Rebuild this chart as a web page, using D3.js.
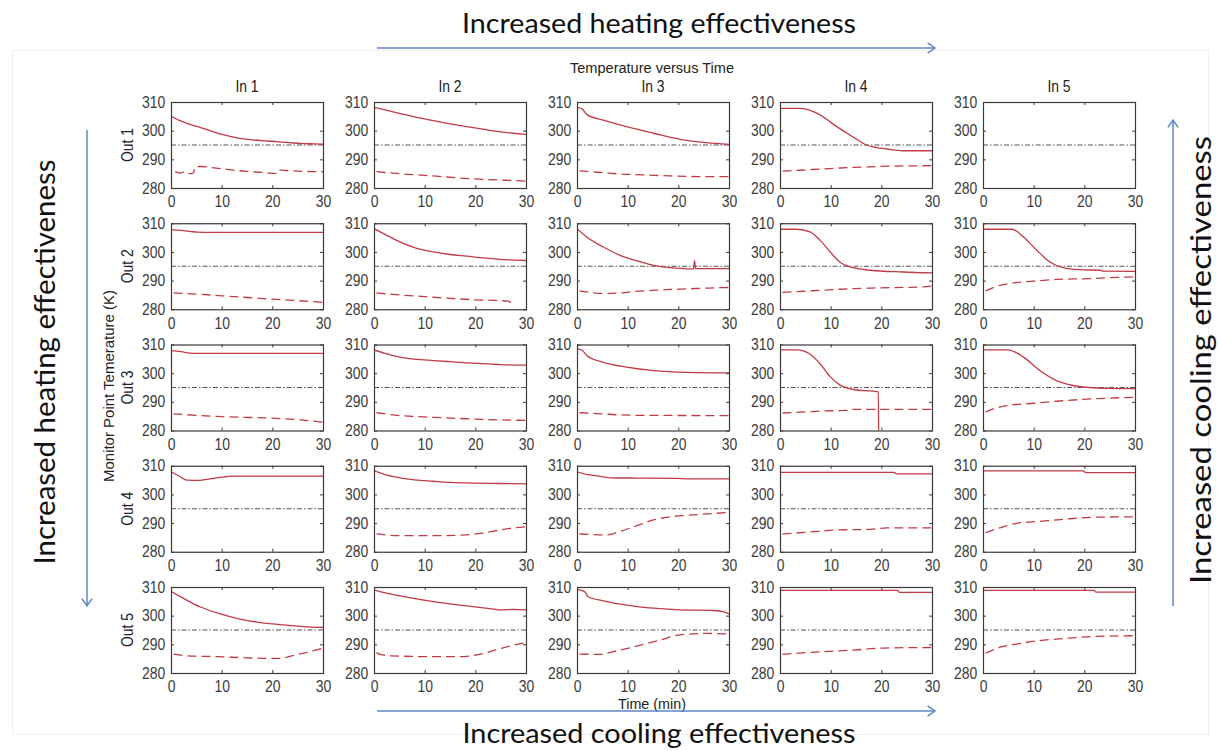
<!DOCTYPE html>
<html>
<head>
<meta charset="utf-8">
<script src="https://cdn.jsdelivr.net/npm/d3@7"></script>
<style>
  body { margin: 0; background: #fff; }
  svg text { font-family: "Liberation Sans", Arial, sans-serif; }
  .nar { transform-box: fill-box; transform-origin: center; transform: scaleX(0.87); }
  .note { font-family: Lato, "Open Sans", sans-serif !important; fill: #111; }
</style>
</head>
<body>
<svg id="chart" width="1218" height="751"></svg>
<script>
// Column / row headings and axis ticks
const inputs = ["In 1", "In 2", "In 3", "In 4", "In 5"];
const outputs = ["Out 1", "Out 2", "Out 3", "Out 4", "Out 5"];
const xTicks = [0, 10, 20, 30];
const yTicks = [280, 290, 300, 310];
const timeRange = [0, 30];
const tempRange = [280, 310];
const setpoint = 295;

// Monitor point temperatures, [minute, kelvin]; one entry per input column, null = no trace
const solidOut1 = [
  [[0,305.0],[2,303.3],[4,302.0],[6,301.0],[8,299.8],[10,298.7],[12,297.9],[14,297.2],[16,296.8],[18,296.5],[20,296.3],[22,296.0],[24,295.7],[26,295.5],[28,295.4],[30,295.3]],
  [[0,308.1],[2,307.3],[5,306.0],[8,304.8],[11.7,303.5],[15,302.4],[18.3,301.4],[21.5,300.5],[24.9,299.6],[27.5,299.1],[30,298.7]],
  [[0,308.1],[1,307.6],[2,305.5],[5.2,303.7],[9.8,301.4],[15.1,299.1],[20.3,297.0],[25.6,295.8],[30,295.2]],
  [[0,307.8],[4,307.8],[5.5,307.3],[7.9,305.5],[11.2,301.4],[14.5,297.7],[17.1,295.0],[19,294.1],[21.1,293.6],[24.3,293.0],[30,293.0]],
  null
];
const dashedOut1 = [
  [[0.8,285.7],[1.8,285.2],[2.6,285.6],[3.6,285.0],[4.4,285.2],[4.8,287.4],[6,287.5],[8,287.1],[10,286.7],[13,286.1],[16,285.7],[18.2,285.4],[20.8,285.1],[21.2,286.3],[23,286.1],[26,285.8],[30,285.7]],
  [[0.5,285.7],[5,285.0],[11.7,284.2],[16,283.6],[21.5,283.0],[26,282.7],[30,282.4]],
  [[0.5,286.0],[4,285.5],[8.5,284.9],[13,284.6],[18.4,284.2],[24,284.0],[30,284.0]],
  [[0.5,285.9],[4,286.2],[7.9,286.6],[11,286.9],[14.5,287.2],[18,287.4],[21.1,287.6],[25,287.7],[30,287.8]],
  null
];

const solidOut2 = [
  [[0,307.8],[2,307.5],[4,307.1],[5.1,306.9],[8,306.8],[30,306.8]],
  [[0,308.1],[2,306.3],[5.1,303.5],[8,301.5],[11.7,300.0],[15,299.1],[18.3,298.5],[21.5,297.9],[24.9,297.4],[30,297.0]],
  [[0,308.1],[1.9,305.2],[5.2,301.7],[8.5,298.8],[11.8,296.9],[15.1,295.3],[18.4,294.5],[21.7,294.1],[23.0,294.1],[23.2,297.0],[23.4,294.2],[30,294.2]],
  [[0,307.9],[3.3,307.9],[5.9,307.0],[7.9,304.1],[9.9,300.0],[11.8,296.5],[14.5,294.5],[17.8,293.6],[24.3,293.0],[30,292.7]],
  [[0,307.9],[5.7,307.9],[8.0,305.2],[10.6,300.6],[13.2,296.5],[15.8,294.5],[19.1,293.8],[23.1,293.6],[23.6,293.3],[30,293.2]]
];
const dashedOut2 = [
  [[0.5,285.7],[5,285.3],[10,284.7],[15,284.1],[20,283.5],[25,283.0],[30,282.4]],
  [[0.5,285.7],[5,285.0],[10,284.4],[15,283.8],[20,283.3],[25,283.0],[26.5,282.8],[27.5,281.2]],
  [[0.5,286.4],[3,285.8],[5.2,285.5],[8.5,285.7],[11.5,286.2],[15.1,286.6],[18.5,286.9],[21.7,287.1],[26,287.4],[30,287.6]],
  [[0.5,285.9],[4,286.2],[7.9,286.6],[11,286.9],[14.5,287.2],[18,287.4],[24.3,287.6],[28,287.8],[30,288.1]],
  [[0.5,286.4],[2.7,288.0],[5.3,289.0],[9.9,289.8],[14.5,290.4],[21.1,290.7],[25,291.0],[30,291.3]]
];

const solidOut3 = [
  [[0,307.9],[2,307.5],[3.7,307.0],[5,306.9],[30,306.9]],
  [[0,308.1],[2,307.0],[5.1,305.6],[8,304.9],[11.7,304.4],[15,304.0],[18.3,303.6],[21.5,303.3],[24.9,303.0],[30,302.8]],
  [[0,308.5],[1,308.0],[1.9,306.2],[5.2,303.8],[9.8,302.1],[15.1,300.9],[21.7,300.3],[30,300.1]],
  [[0,308.1],[3.3,308.1],[5.9,306.7],[7.9,303.3],[9.9,298.8],[11.8,295.9],[14.5,294.3],[18.4,293.7],[19.4,293.5],[19.5,275],[30,275]],
  [[0,308.1],[4.9,308.1],[8.0,305.6],[11.2,300.9],[14.5,297.4],[17.8,295.7],[21.1,295.0],[25,294.7],[30,294.6]]
];
const dashedOut3 = [
  [[0.5,285.8],[5,285.3],[9,284.9],[14,284.6],[18.9,284.4],[22,284.1],[25.5,283.7],[30,282.9]],
  [[0.5,286.2],[5.1,285.2],[11.7,284.6],[18.3,284.1],[24.9,283.7],[30,283.5]],
  [[0.5,286.2],[5,285.8],[7.7,285.5],[12,285.3],[30,285.2]],
  [[0.5,286.1],[4,286.4],[7.9,286.8],[13.5,287.0],[14.2,287.4],[30,287.4]],
  [[0.5,286.4],[2.5,287.8],[4.7,288.7],[9.9,289.5],[14.5,290.2],[21.1,291.0],[25,291.3],[30,291.6]]
];

const solidOut4 = [
  [[0,307.9],[1.5,306.5],[3.1,305.0],[5.7,304.9],[8.3,305.6],[10,306.0],[12.2,306.4],[30,306.4]],
  [[0,308.3],[2,307.0],[5.1,305.8],[8,305.1],[11.7,304.6],[15,304.2],[18.3,304.0],[24.9,303.8],[30,303.7]],
  [[0,307.9],[1.9,307.0],[3.9,306.5],[6.5,305.8],[12,305.7],[19.7,305.6],[22,305.4],[30,305.4]],
  [[0,307.7],[22.5,307.7],[23,307.2],[30,307.2]],
  [[0,308.2],[19.8,308.2],[20.3,307.6],[30,307.6]]
];
const dashedOut4 = [
  null,
  [[0.5,286.2],[5.1,285.6],[11.7,285.6],[18.3,285.9],[21.5,286.5],[24.9,287.6],[27.5,288.3],[30,288.7]],
  [[0.5,286.2],[5.9,285.9],[8.5,287.1],[11.8,289.1],[15.1,291.1],[18.4,292.2],[21.7,292.7],[25.6,293.2],[30,293.7]],
  [[0.5,286.2],[5.3,286.8],[11.2,287.6],[17.8,287.8],[21.1,288.3],[30,288.3]],
  [[0.5,286.7],[3.4,288.4],[6.6,289.9],[11.2,290.6],[16.5,291.4],[21.1,292.0],[30,292.2]]
];

const solidOut5 = [
  [[0,308.4],[2.4,306.1],[5.7,303.1],[9.7,300.6],[13.6,298.8],[18.9,297.3],[22.8,296.7],[26,296.2],[30,295.9]],
  [[0,309.0],[2,308.0],[5.1,306.9],[11.7,304.9],[18.3,303.4],[23.6,302.3],[25,302.0],[27.5,302.2],[30,302.0]],
  [[0,309.2],[1.5,308.4],[2.2,306.6],[5.2,305.2],[9.8,303.7],[15.1,302.6],[20.3,302.0],[26.9,301.8],[29,301.3],[30,300.6]],
  [[0,308.8],[23.2,308.8],[23.6,308.1],[30,308.1]],
  [[0,308.8],[21.9,308.8],[22.3,308.2],[30,308.2]]
];
const dashedOut5 = [
  [[0.5,286.6],[3.1,286.0],[9,285.7],[15,285.3],[18.9,285.1],[21.5,285.1],[23.5,285.8],[25.5,286.7],[28,287.7],[30,288.7]],
  [[0.5,287.1],[1.2,286.5],[3.4,286.0],[11.7,285.7],[17,285.7],[21.5,286.8],[24.9,288.5],[28,289.9],[30,290.6]],
  [[0.5,286.6],[4.4,286.5],[7.0,287.4],[11.8,289.4],[16.4,291.5],[20.3,293.3],[25.6,293.8],[30,293.6]],
  [[0.5,286.5],[7.9,287.4],[14.5,288.0],[20.4,288.7],[30,288.9]],
  [[0.5,286.9],[3.4,289.0],[6.6,290.1],[11.2,291.3],[16.5,292.1],[21.1,292.7],[30,293.0]]
];

const solidRows = [solidOut1, solidOut2, solidOut3, solidOut4, solidOut5];
const dashedRows = [dashedOut1, dashedOut2, dashedOut3, dashedOut4, dashedOut5];

// ---- layout ----
const svg = d3.select("#chart");
const panelW = 152, panelH = 86;
const colX = d3.scalePoint().domain(d3.range(5)).range([171, 983]);
const rowY = d3.scalePoint().domain(d3.range(5)).range([102, 587]);
const x = d3.scaleLinear().domain(timeRange).range([0, panelW]);
const y = d3.scaleLinear().domain(tempRange).range([panelH, 0]);

const red = "#c23a44";
const axisInk = "#3a3a3a";
const labelInk = "#3c3c3c";
const line = d3.line().x(d => x(d[0])).y(d => y(d[1])).curve(d3.curveMonotoneX);

// faint figure frame
svg.append("rect").attr("x", 12.5).attr("y", 50.5).attr("width", 1196).attr("height", 684)
  .attr("fill", "none").attr("stroke", "#efefef");

svg.append("defs").append("clipPath").attr("id", "panelClip")
  .append("rect").attr("width", panelW).attr("height", panelH);

function narrowText(sel) { sel.selectAll("text").attr("class", "nar"); }

for (let r = 0; r < 5; r++) {
  for (let c = 0; c < 5; c++) {
    const g = svg.append("g").attr("transform", `translate(${colX(c)},${rowY(r)})`);

    // traces
    const plot = g.append("g").attr("clip-path", "url(#panelClip)");
    plot.append("line")
      .attr("x1", x(timeRange[0])).attr("x2", x(timeRange[1]))
      .attr("y1", y(setpoint)).attr("y2", y(setpoint))
      .attr("stroke", "#555").attr("stroke-width", 1.2)
      .attr("stroke-dasharray", "5,2,1.5,2");
    const s = solidRows[r][c];
    if (s) plot.append("path").attr("d", line(s)).attr("fill", "none")
      .attr("stroke", red).attr("stroke-width", 1.3);
    const d = dashedRows[r][c];
    if (d) plot.append("path").attr("d", line(d)).attr("fill", "none")
      .attr("stroke", red).attr("stroke-width", 1.3).attr("stroke-dasharray", "9,5");

    // axes: inward ticks on all four sides
    const ax = [
      g.append("g").attr("transform", `translate(0,${panelH})`)
        .call(d3.axisBottom(x).tickValues(xTicks).tickSizeInner(-3).tickSizeOuter(0).tickPadding(8)),
      g.append("g")
        .call(d3.axisLeft(y).tickValues(yTicks).tickSizeInner(-3).tickSizeOuter(0).tickPadding(4)),
      g.append("g")
        .call(d3.axisTop(x).tickValues(xTicks).tickSizeInner(-3).tickSizeOuter(0).tickFormat("")),
      g.append("g").attr("transform", `translate(${panelW},0)`)
        .call(d3.axisRight(y).tickValues(yTicks).tickSizeInner(-3).tickSizeOuter(0).tickFormat(""))
    ];
    ax.forEach(a => {
      a.select(".domain").remove();
      a.selectAll("line").attr("stroke", axisInk);
      a.selectAll("text").attr("fill", labelInk).style("font-size", "16px");
      narrowText(a);
    });
    g.append("rect").attr("x", 0.5).attr("y", 0.5).attr("width", panelW).attr("height", panelH)
      .attr("fill", "none").attr("stroke", axisInk).attr("stroke-width", 1.2);
  }
}

// column headings
svg.selectAll("text.colhead").data(inputs).join("text")
  .attr("x", (d, i) => colX(i) + panelW / 2).attr("y", 92)
  .attr("text-anchor", "middle").attr("fill", "#222").style("font-size", "16px")
  .attr("class", "nar").text(d => d);

// row headings
outputs.forEach((o, i) => {
  svg.append("g").attr("transform", `translate(133,${rowY(i) + panelH / 2}) rotate(-90)`)
    .append("text").attr("text-anchor", "middle").attr("fill", "#222")
    .style("font-size", "16px").attr("class", "nar").text(o);
});

// figure title and axis titles
svg.append("text").attr("x", colX(2) + panelW / 2 - 1).attr("y", 73).attr("text-anchor", "middle")
  .attr("fill", "#222").style("font-size", "14px").attr("textLength", 164).attr("lengthAdjust", "spacingAndGlyphs")
  .text("Temperature versus Time");
svg.append("text").attr("x", colX(2) + panelW / 2 - 1).attr("y", 709).attr("text-anchor", "middle")
  .attr("fill", "#222").style("font-size", "14px").attr("textLength", 68).attr("lengthAdjust", "spacingAndGlyphs")
  .text("Time (min)");
svg.append("g").attr("transform", `translate(114,386) rotate(-90)`)
  .append("text").attr("text-anchor", "middle").attr("fill", "#222")
  .style("font-size", "14px").attr("textLength", 192).attr("lengthAdjust", "spacingAndGlyphs")
  .text("Monitor Point Temerature (K)");

// effectiveness arrows
const blue = "#5b87c9";
function arrow(x1, y1, x2, y2) {
  const a = Math.atan2(y2 - y1, x2 - x1), L = 9, W = 0.6;
  svg.append("line").attr("x1", x1).attr("y1", y1).attr("x2", x2).attr("y2", y2)
    .attr("stroke", blue).attr("stroke-width", 1.5);
  svg.append("path").attr("fill", "none").attr("stroke", blue).attr("stroke-width", 1.5)
    .attr("d", `M${x2 - L * Math.cos(a - W)},${y2 - L * Math.sin(a - W)}L${x2},${y2}L${x2 - L * Math.cos(a + W)},${y2 - L * Math.sin(a + W)}`);
}
arrow(377, 48, 935, 48);
arrow(377, 711, 935, 711);
arrow(87, 130, 87, 606);
arrow(1173, 606, 1173, 120);

svg.append("text").attr("class", "note").attr("x", 659).attr("y", 33).attr("text-anchor", "middle")
  .style("font-size", "26px").attr("textLength", 394).attr("lengthAdjust", "spacingAndGlyphs")
  .text("Increased heating effectiveness");
svg.append("text").attr("class", "note").attr("x", 659).attr("y", 743).attr("text-anchor", "middle")
  .style("font-size", "26px").attr("textLength", 393).attr("lengthAdjust", "spacingAndGlyphs")
  .text("Increased cooling effectiveness");
svg.append("g").attr("transform", "translate(55,362) rotate(-90)")
  .append("text").attr("class", "note").attr("text-anchor", "middle")
  .style("font-size", "29px").attr("textLength", 405).attr("lengthAdjust", "spacingAndGlyphs")
  .text("Increased heating effectiveness");
svg.append("g").attr("transform", "translate(1211,360) rotate(-90)")
  .append("text").attr("class", "note").attr("text-anchor", "middle")
  .style("font-size", "29px").attr("textLength", 448).attr("lengthAdjust", "spacingAndGlyphs")
  .text("Increased cooling effectiveness");
</script>
</body>
</html>
